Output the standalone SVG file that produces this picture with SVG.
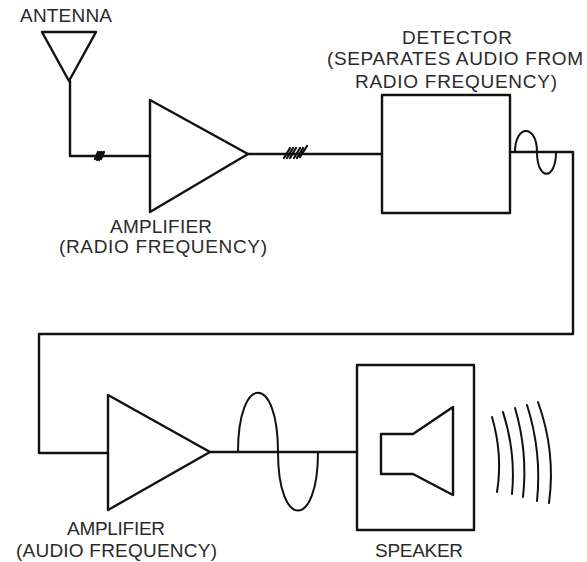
<svg xmlns="http://www.w3.org/2000/svg" width="587" height="562" viewBox="0 0 587 562">
<style>
.ln{fill:none;stroke:#111;stroke-width:2.4;stroke-linejoin:round;stroke-linecap:round}
.th{fill:none;stroke:#111;stroke-width:2;stroke-linecap:round}
.hx{fill:none;stroke:#111;stroke-width:2.2;stroke-linecap:round}
text{font-family:"Liberation Sans",Arial,sans-serif;font-size:19px;fill:#2a2a2a}
</style>
<rect width="587" height="562" fill="#fff"/>
<g id="connectors">
<path class="ln" d="M70,81 V156 H150"/>
<path class="ln" d="M248,154 H382"/>
<path class="ln" d="M510,152 H573 V334 H39 V453 H108"/>
<path class="ln" d="M210,452 H357"/>
<g id="hatch1">
<path class="hx" d="M95,159 L98,152 M97,160 L100,152 M99,160 L102,152 M101,159 L104,152"/>
</g>
<g id="hatch2">
<path class="hx" d="M284,158 L290,148 M287,158 L293,148 M290,158 L296,148 M294,158 L300,148 M297,158 L303,148 M300,157 L307,146"/>
</g>
<path class="th" d="M515,152 C515,124 537,124 537,152 C537,181 556,181 556,152"/>
<path class="th" d="M238,452 C238,373 278,373 278,452 C278,530 318,530 318,452"/>
</g>
<g id="antenna">
<path class="ln" d="M42,32 H96 L69,81 Z"/>
<text x="20" y="22" textLength="92" lengthAdjust="spacing">ANTENNA</text>
</g>
<g id="amp-rf">
<path class="ln" d="M150,100 L248,154 L150,212 Z"/>
<text x="110" y="233" textLength="102" lengthAdjust="spacing">AMPLIFIER</text>
<text x="59" y="253" textLength="208" lengthAdjust="spacing">(RADIO FREQUENCY)</text>
</g>
<g id="detector">
<rect class="ln" x="382" y="95" width="128" height="118"/>
<text x="402" y="44" textLength="110" lengthAdjust="spacing">DETECTOR</text>
<text x="327" y="65" textLength="256" lengthAdjust="spacing">(SEPARATES AUDIO FROM</text>
<text x="355" y="88" textLength="202" lengthAdjust="spacing">RADIO FREQUENCY)</text>
</g>
<g id="amp-af">
<path class="ln" d="M108,395 L210,452 L108,510 Z"/>
<text x="67" y="535" textLength="98" lengthAdjust="spacing">AMPLIFIER</text>
<text x="16" y="557" textLength="201" lengthAdjust="spacing">(AUDIO FREQUENCY)</text>
</g>
<g id="speaker">
<rect class="ln" x="357" y="365" width="117" height="165"/>
<path class="ln" d="M381,434 H413 L453,407 V495 L413,474 H381 Z"/>
<path class="th" d="M492,417 Q503,455 497,492"/>
<path class="th" d="M503,412 Q516,453 512,494"/>
<path class="th" d="M515,408 Q528,452 523,497"/>
<path class="th" d="M527,405 Q542,452 537,501"/>
<path class="th" d="M538,402 Q556,452 549,503"/>
<text x="375" y="557" textLength="88" lengthAdjust="spacing">SPEAKER</text>
</g>
</svg>
